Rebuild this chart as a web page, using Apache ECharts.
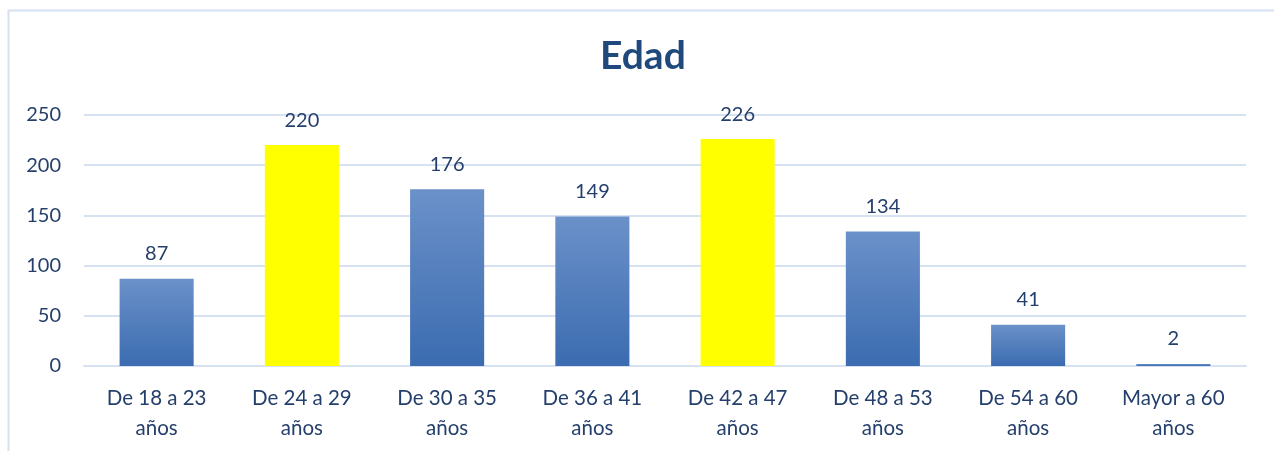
<!DOCTYPE html>
<html>
<head>
  <meta charset="utf-8">
  <title>Edad</title>
  <style>
    html, body { margin: 0; padding: 0; background: #fff; }
    #main { width: 1274px; height: 451px; }
  </style>
</head>
<body>
<div id="main"></div>
<script src="https://cdn.jsdelivr.net/npm/echarts@6/dist/echarts.min.js"></script>
<script>
// datos de la gráfica
var categorias = ["De 18 a 23\naños", "De 24 a 29\naños", "De 30 a 35\naños", "De 36 a 41\naños",
                  "De 42 a 47\naños", "De 48 a 53\naños", "De 54 a 60\naños", "Mayor a 60\naños"];
var valores = [87, 220, 176, 149, 226, 134, 41, 2];
var resaltados = [1, 4]; // barras en amarillo
var ticksY = [0, 50, 100, 150, 200, 250];

var textColor = "#243F6B";
var fuente = "Lato, 'Open Sans', sans-serif";

var azul = new echarts.graphic.LinearGradient(0, 0, 0, 1, [
  { offset: 0, color: "#6B91C9" },
  { offset: 1, color: "#3B6CB0" }
]);

var datos = valores.map(function (v, i) {
  return {
    value: v,
    itemStyle: { color: resaltados.indexOf(i) >= 0 ? "#FFFF00" : azul }
  };
});

var myChart = echarts.init(document.getElementById("main"));
myChart.setOption({
  animation: false,
  graphic: [{
    type: "polyline",
    shape: { points: [[8.5, 451], [8.5, 10.5], [1274, 10.5]] },
    style: { stroke: "#D6E2F2", lineWidth: 2, fill: null },
    silent: true
  }],
  title: {
    text: "Edad",
    left: 600,
    top: 37,
    padding: 0,
    textStyle: { color: "#1F497D", fontFamily: fuente, fontWeight: "bold", fontSize: 39 }
  },
  grid: { left: 84, right: 28, top: 115, bottom: 85 },
  xAxis: {
    type: "category",
    data: categorias,
    axisLine: { show: true, lineStyle: { color: "#D6E2F2", width: 2 } },
    axisTick: { show: false },
    axisLabel: {
      color: textColor, fontFamily: fuente, fontSize: 20.5, lineHeight: 30,
      margin: 17, interval: 0
    }
  },
  yAxis: {
    type: "value",
    min: ticksY[0],
    max: ticksY[ticksY.length - 1],
    interval: 50,
    axisLine: { show: false },
    axisTick: { show: false },
    splitLine: { lineStyle: { color: "#D6E2F2", width: 2 } },
    axisLabel: { color: textColor, fontFamily: fuente, fontSize: 20, margin: 23 }
  },
  series: [{
    type: "bar",
    data: datos,
    barWidth: "51%",
    label: {
      show: true,
      position: "top",
      distance: 15,
      color: textColor,
      fontFamily: fuente,
      fontSize: 20
    }
  }]
});
</script>
</body>
</html>
